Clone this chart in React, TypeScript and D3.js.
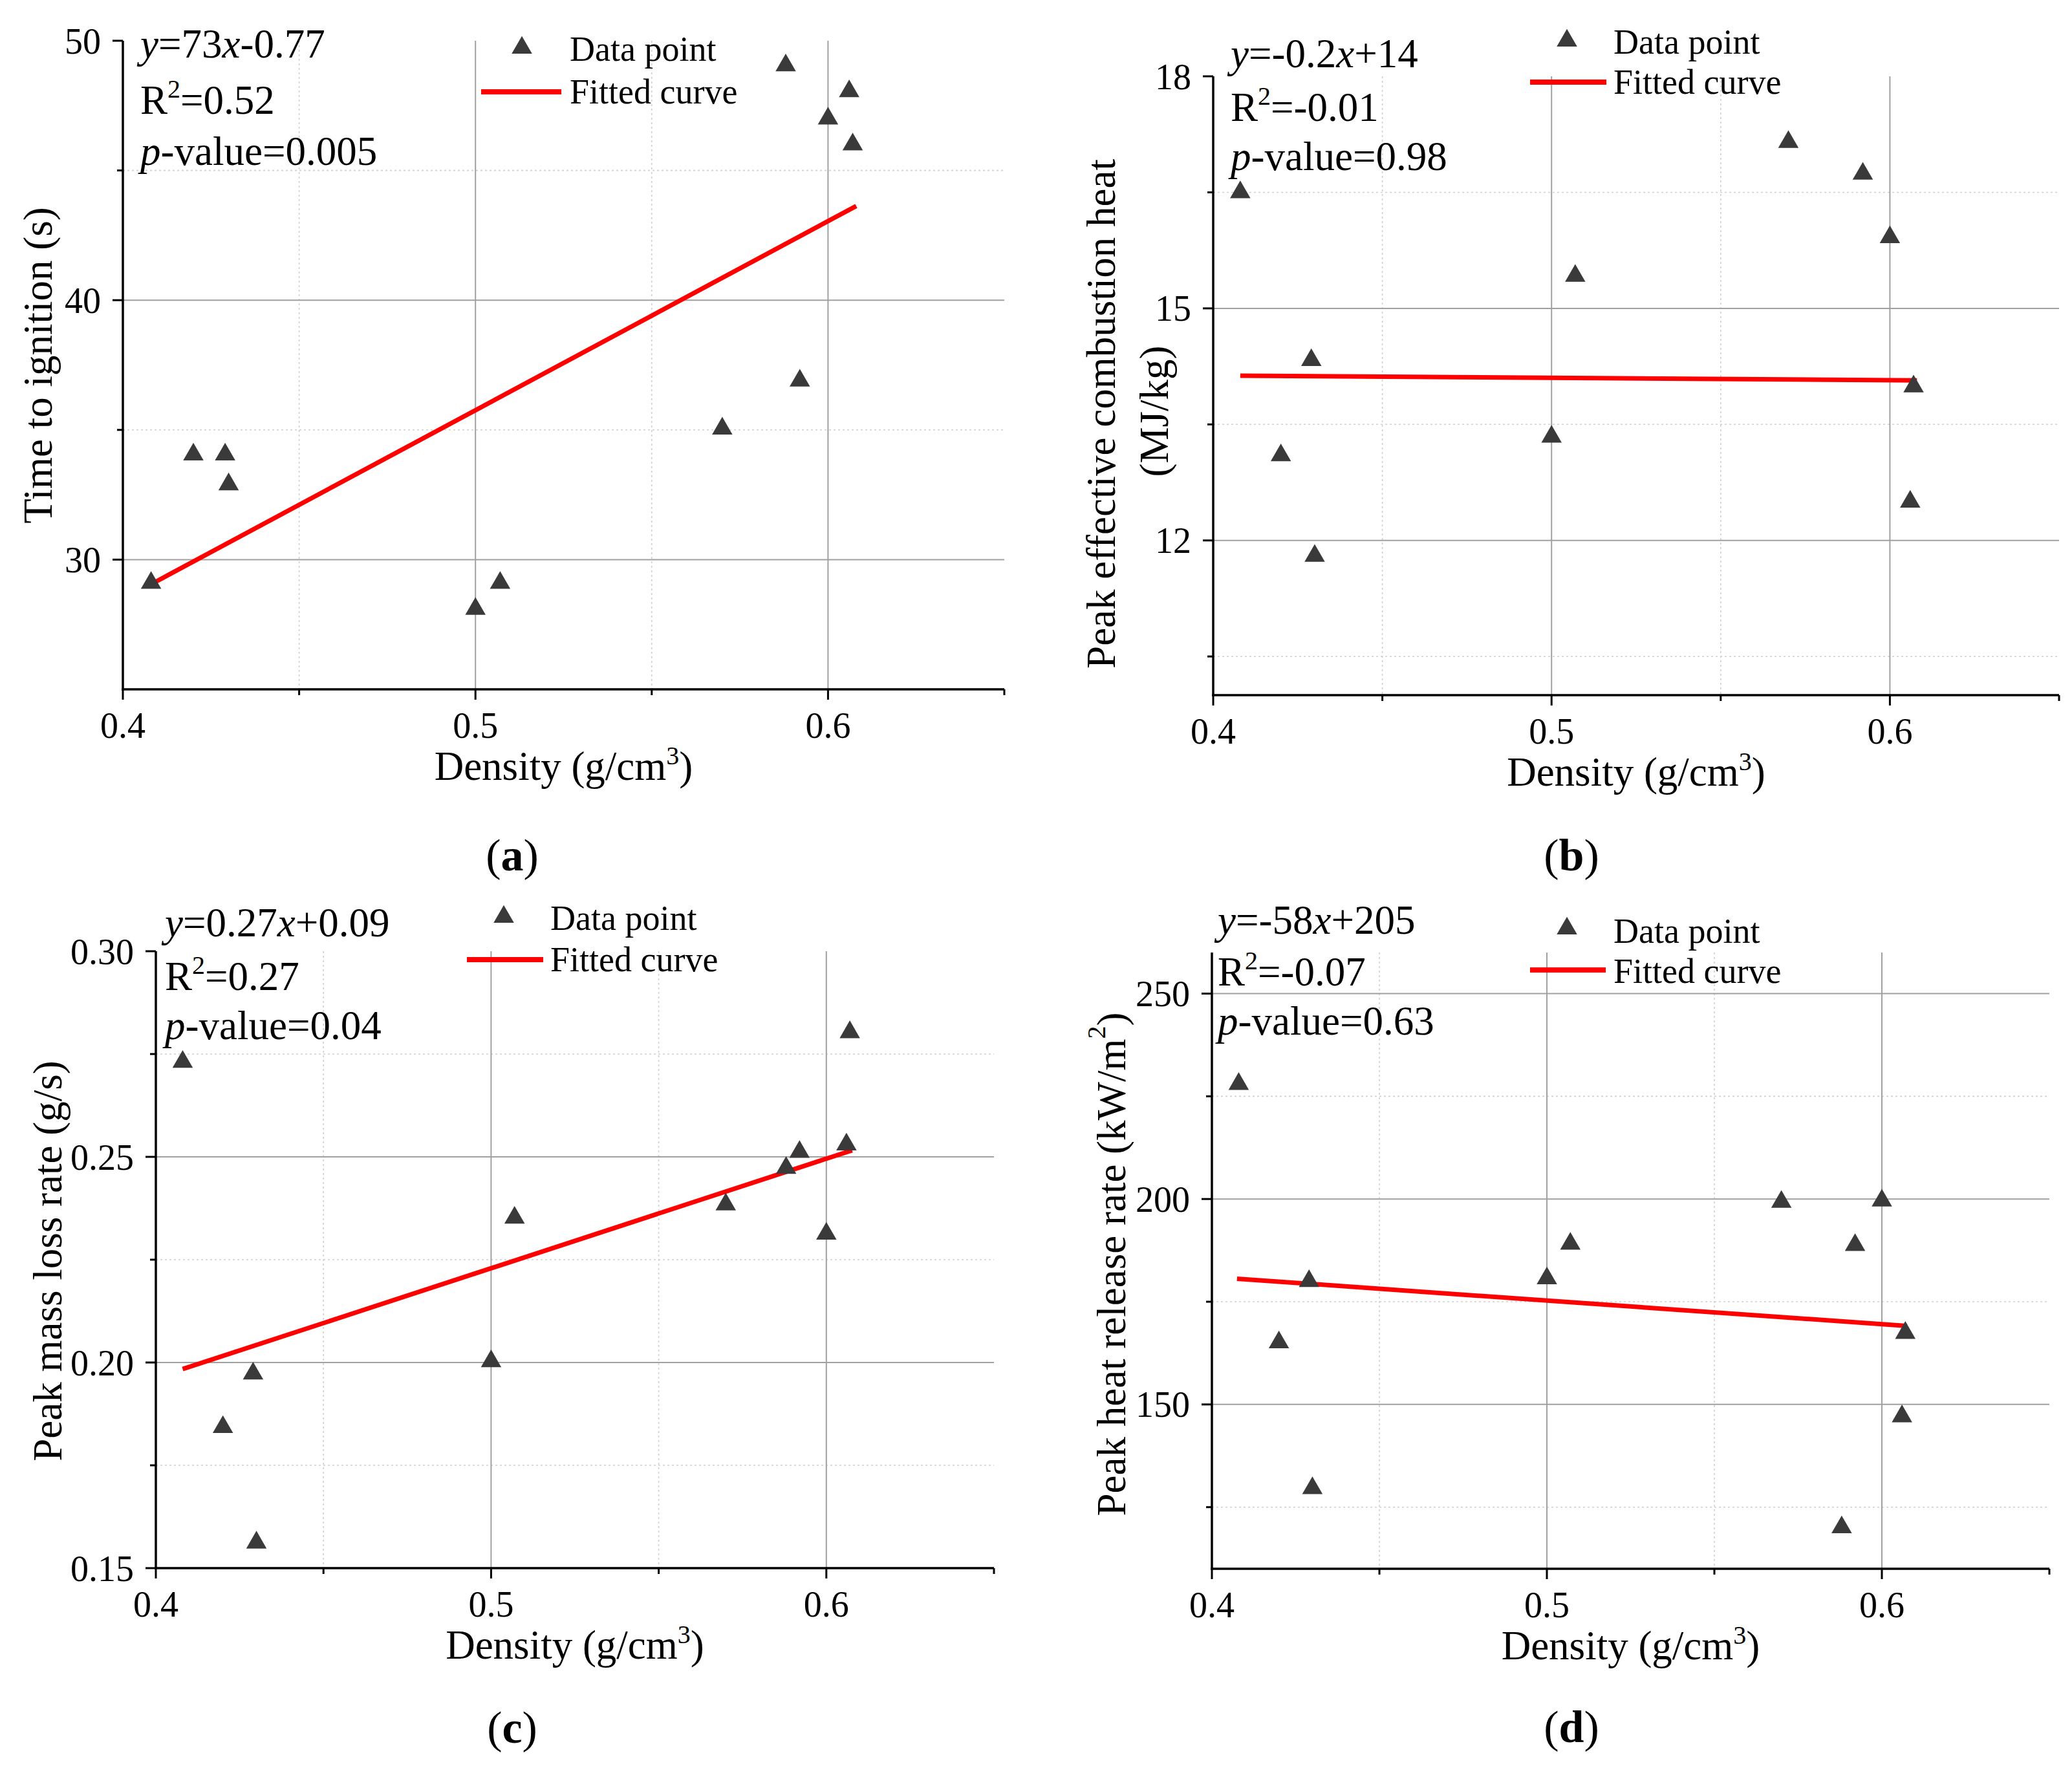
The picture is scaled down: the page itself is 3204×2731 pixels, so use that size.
import * as d3 from 'd3';

// ---- data ----
const densityA = [0.408, 0.42, 0.429, 0.43, 0.5, 0.507, 0.57, 0.588, 0.592, 0.6, 0.606, 0.607];
const ignitionTime = [29.1, 34.05, 34.05, 32.9, 28.1, 29.1, 35.05, 49.05, 36.9, 47.0, 48.05, 46.0];
const fitIgnition = [[0.408, 29.05], [0.608, 43.63]];

const densityB = [0.408, 0.42, 0.429, 0.43, 0.5, 0.507, 0.57, 0.592, 0.6, 0.606, 0.607];
const combustionHeat = [16.5, 13.1, 14.33, 11.8, 13.34, 15.42, 17.15, 16.74, 15.92, 12.5, 13.99];
const fitHeat = [[0.408, 14.13], [0.608, 14.07]];

const densityC = [0.408, 0.42, 0.429, 0.43, 0.5, 0.507, 0.57, 0.588, 0.592, 0.6, 0.606, 0.607];
const massLossRate = [0.2731, 0.1843, 0.1973, 0.1562, 0.2003, 0.2352, 0.2384, 0.2473, 0.2512, 0.2313, 0.253, 0.2803];
const fitMassLoss = [[0.408, 0.1984], [0.6077, 0.2516]];

const densityD = [0.408, 0.42, 0.429, 0.43, 0.5, 0.507, 0.57, 0.588, 0.592, 0.6, 0.606, 0.607];
const heatRelease = [228.0, 165.1, 180.0, 129.6, 180.7, 189.1, 199.3, 120.1, 188.8, 199.6, 147.1, 167.4];
const fitHeatRelease = [[0.4075, 180.6], [0.6075, 169.1]];

const xMajor = [0.4, 0.5, 0.6];
const xMinor = [0.45, 0.55, 0.65];

const FONT = '"Liberation Serif", "Times New Roman", serif';
const W = 3204;
const H = 2731;

type Eq = { slope: string; intercept: string; r2: string; p: string };

type PanelCfg = {
  label: string;
  xs: number[];
  ys: number[];
  fit: number[][];
  yDomain: [number, number];
  yMajor: number[];
  yMinor: number[];
  yFmt: string;
  box: { left: number; right: number; top: number; bottom: number };
  yTitle: string[];
  yTitleSup?: string;
  yTitlePos: number[][];
  eq: Eq;
  eqPos: { x: number; ys: number[] };
  legend: { tx: number; ty: number; textX: number; b1: number; lx1: number; lx2: number; ly: number; b2: number };
  labelPos: number[];
};

const panels: PanelCfg[] = [
  {
    label: 'a', xs: densityA, ys: ignitionTime, fit: fitIgnition,
    yDomain: [25, 50], yMajor: [30, 40, 50], yMinor: [35, 45], yFmt: 'd',
    box: { left: 190, right: 1553, top: 63, bottom: 1066 },
    yTitle: ['Time to ignition (s)'], yTitlePos: [[59, 565]],
    eq: { slope: '73', intercept: '-0.77', r2: '0.52', p: '0.005' },
    eqPos: { x: 217, ys: [89, 176, 255] },
    legend: { tx: 807, ty: 74, textX: 881, b1: 94, lx1: 744, lx2: 868, ly: 142, b2: 160 },
    labelPos: [792, 1346],
  },
  {
    label: 'b', xs: densityB, ys: combustionHeat, fit: fitHeat,
    yDomain: [10, 18], yMajor: [12, 15, 18], yMinor: [10.5, 13.5, 16.5], yFmt: 'd',
    box: { left: 1876, right: 3184, top: 118, bottom: 1075 },
    yTitle: ['Peak effective combustion heat', '(MJ/kg)'], yTitlePos: [[1703, 640], [1785, 636]],
    eq: { slope: '-0.2', intercept: '+14', r2: '-0.01', p: '0.98' },
    eqPos: { x: 1903, ys: [104, 187, 263] },
    legend: { tx: 2423, ty: 63, textX: 2495, b1: 83, lx1: 2366, lx2: 2484, ly: 127, b2: 145 },
    labelPos: [2430, 1346],
  },
  {
    label: 'c', xs: densityC, ys: massLossRate, fit: fitMassLoss,
    yDomain: [0.15, 0.3], yMajor: [0.15, 0.2, 0.25, 0.3], yMinor: [0.175, 0.225, 0.275], yFmt: '.2f',
    box: { left: 241, right: 1537, top: 1471, bottom: 2425 },
    yTitle: ['Peak mass loss rate (g/s)'], yTitlePos: [[74, 1950]],
    eq: { slope: '0.27', intercept: '+0.09', r2: '0.27', p: '0.04' },
    eqPos: { x: 255, ys: [1448, 1531, 1607] },
    legend: { tx: 779, ty: 1418, textX: 851, b1: 1438, lx1: 722, lx2: 840, ly: 1484, b2: 1502 },
    labelPos: [792, 2695],
  },
  {
    label: 'd', xs: densityD, ys: heatRelease, fit: fitHeatRelease,
    yDomain: [110, 260], yMajor: [150, 200, 250], yMinor: [125, 175, 225], yFmt: 'd',
    box: { left: 1874, right: 3169, top: 1473, bottom: 2426 },
    yTitle: ['Peak heat release rate (kW/m'], yTitleSup: '2', yTitlePos: [[1719, 1955]],
    eq: { slope: '-58', intercept: '+205', r2: '-0.07', p: '0.63' },
    eqPos: { x: 1883, ys: [1444, 1524, 1600] },
    legend: { tx: 2423, ty: 1436, textX: 2495, b1: 1458, lx1: 2366, lx2: 2483, ly: 1500, b2: 1520 },
    labelPos: [2430, 2694],
  },
];

const tri = d3.symbol(d3.symbolTriangle, 430)();

function Panel({ p }: { p: PanelCfg }) {
  const { left, right, top, bottom } = p.box;
  const x = d3.scaleLinear().domain([0.4, 0.65]).range([left, right]);
  const y = d3.scaleLinear().domain(p.yDomain).range([bottom, top]);
  const fmtY = d3.format(p.yFmt);
  const fmtX = d3.format('.1f');
  const line = d3.line<number[]>().x(d => x(d[0])).y(d => y(d[1]));
  const [y0, y1] = p.yDomain;
  const inside = (v: number, a: number, b: number) => v > a + 1e-9 && v < b - 1e-9;
  const tickFs = 56;
  const titleFs = 63;

  return (
    <g fontFamily={FONT} fill="#000">
      {/* grid */}
      {p.yMinor.filter(v => inside(v, y0, y1)).map(v => (
        <line key={'gym' + v} x1={left} x2={right} y1={y(v)} y2={y(v)} stroke="#cfcfcf" strokeWidth={1.6} strokeDasharray="3,4" />
      ))}
      {xMinor.filter(v => inside(v, 0.4, 0.65)).map(v => (
        <line key={'gxm' + v} x1={x(v)} x2={x(v)} y1={top} y2={bottom} stroke="#cfcfcf" strokeWidth={1.6} strokeDasharray="3,4" />
      ))}
      {p.yMajor.filter(v => inside(v, y0, y1)).map(v => (
        <line key={'gy' + v} x1={left} x2={right} y1={y(v)} y2={y(v)} stroke="#a0a0a0" strokeWidth={2} />
      ))}
      {xMajor.filter(v => inside(v, 0.4, 0.65)).map(v => (
        <line key={'gx' + v} x1={x(v)} x2={x(v)} y1={top} y2={bottom} stroke="#a0a0a0" strokeWidth={2} />
      ))}

      {/* axes */}
      <line x1={left} x2={left} y1={top} y2={bottom + 1.75} stroke="#000" strokeWidth={3.5} />
      <line x1={left - 1.75} x2={right} y1={bottom} y2={bottom} stroke="#000" strokeWidth={3.5} />
      {p.yMajor.map(v => (
        <g key={'ty' + v}>
          <line x1={left - 16} x2={left} y1={y(v)} y2={y(v)} stroke="#000" strokeWidth={3} />
          <text x={left - 34} y={y(v)} dy="0.35em" textAnchor="end" fontSize={tickFs}>{fmtY(v)}</text>
        </g>
      ))}
      {p.yMinor.map(v => (
        <line key={'tym' + v} x1={left - 9} x2={left} y1={y(v)} y2={y(v)} stroke="#000" strokeWidth={3} />
      ))}
      {xMajor.map(v => (
        <g key={'tx' + v}>
          <line x1={x(v)} x2={x(v)} y1={bottom} y2={bottom + 16} stroke="#000" strokeWidth={3} />
          <text x={x(v)} y={bottom + 75} textAnchor="middle" fontSize={tickFs}>{fmtX(v)}</text>
        </g>
      ))}
      {xMinor.map(v => (
        <line key={'txm' + v} x1={x(v)} x2={x(v)} y1={bottom} y2={bottom + 9} stroke="#000" strokeWidth={3} />
      ))}

      {/* axis titles */}
      <text x={(left + right) / 2} y={bottom + 140} textAnchor="middle" fontSize={titleFs}>
        Density (g/cm<tspan dy={-24} fontSize={40}>3</tspan><tspan dy={24}>)</tspan>
      </text>
      {p.yTitle.map((t, i) => (
        <text key={'yt' + i} transform={`translate(${p.yTitlePos[i][0]},${p.yTitlePos[i][1]}) rotate(-90)`}
          textAnchor="middle" dominantBaseline="central" fontSize={titleFs}>
          {t}
          {p.yTitleSup ? (<><tspan dy={-24} fontSize={40}>{p.yTitleSup}</tspan><tspan dy={24}>)</tspan></>) : null}
        </text>
      ))}

      {/* fitted line */}
      <path d={line(p.fit) || ''} fill="none" stroke="#ff0000" strokeWidth={7} />

      {/* points */}
      {p.xs.map((v, i) => (
        <path key={'pt' + i} d={tri || ''} transform={`translate(${x(v)},${y(p.ys[i])})`} fill="#3a3a3a" />
      ))}

      {/* equation */}
      <text x={p.eqPos.x} y={p.eqPos.ys[0]} fontSize={titleFs}>
        <tspan fontStyle="italic">y</tspan>={p.eq.slope}<tspan fontStyle="italic">x</tspan>{p.eq.intercept}
      </text>
      <text x={p.eqPos.x} y={p.eqPos.ys[1]} fontSize={titleFs}>
        R<tspan dy={-25} fontSize={40}>2</tspan><tspan dy={25}>={p.eq.r2}</tspan>
      </text>
      <text x={p.eqPos.x} y={p.eqPos.ys[2]} fontSize={titleFs}>
        <tspan fontStyle="italic">p</tspan>-value={p.eq.p}
      </text>

      {/* legend */}
      <path d={tri || ''} transform={`translate(${p.legend.tx},${p.legend.ty})`} fill="#3a3a3a" />
      <text x={p.legend.textX} y={p.legend.b1} fontSize={54}>Data point</text>
      <line x1={p.legend.lx1} x2={p.legend.lx2} y1={p.legend.ly} y2={p.legend.ly} stroke="#ff0000" strokeWidth={8} />
      <text x={p.legend.textX} y={p.legend.b2} fontSize={54}>Fitted curve</text>

      {/* panel label */}
      <text x={p.labelPos[0]} y={p.labelPos[1]} textAnchor="middle" fontSize={70}>
        (<tspan fontWeight="bold">{p.label}</tspan>)
      </text>
    </g>
  );
}

export default function App() {
  return (
    <svg width={W} height={H} viewBox={`0 0 ${W} ${H}`}
      style={{ position: 'absolute', left: 0, top: 0, background: '#fff' }}>
      <rect width={W} height={H} fill="#fff" />
      {panels.map(p => <Panel key={p.label} p={p} />)}
    </svg>
  );
}
